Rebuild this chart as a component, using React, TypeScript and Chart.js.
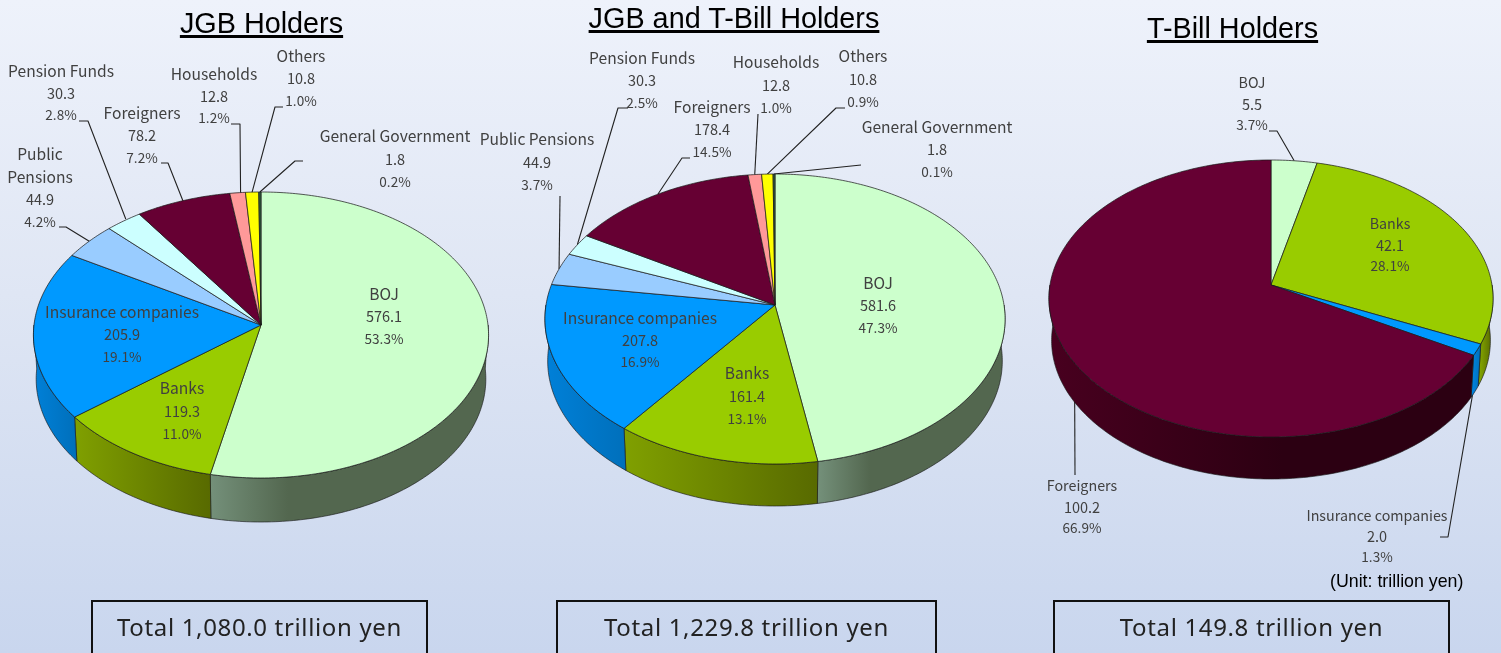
import React, { useEffect, useRef } from "react";
import { Chart, registerables } from "chart.js";

Chart.register(...registerables);

// ---------- data ----------
const jgbHolders = ["BOJ", "Banks", "Insurance companies", "Public Pensions", "Pension Funds", "Foreigners", "Households", "Others", "General Government"];
const jgbValues = [576.1, 119.3, 205.9, 44.9, 30.3, 78.2, 12.8, 10.8, 1.8];
const jgbPercents = ["53.3%", "11.0%", "19.1%", "4.2%", "2.8%", "7.2%", "1.2%", "1.0%", "0.2%"];

const allHolders = jgbHolders;
const allValues = [581.6, 161.4, 207.8, 44.9, 30.3, 178.4, 12.8, 10.8, 1.8];
const allPercents = ["47.3%", "13.1%", "16.9%", "3.7%", "2.5%", "14.5%", "1.0%", "0.9%", "0.1%"];

const billHolders = ["BOJ", "Banks", "Insurance companies", "Foreigners"];
const billValues = [5.5, 42.1, 2.0, 100.2];
const billPercents = ["3.7%", "28.1%", "1.3%", "66.9%"];

const titles = ["JGB Holders", "JGB and T-Bill Holders", "T-Bill Holders"];
const totals = ["Total 1,080.0 trillion yen", "Total 1,229.8 trillion yen", "Total 149.8 trillion yen"];
const unitNote = "(Unit: trillion yen)";

// ---------- styles and layout ----------
const WIDTH = 1501;
const HEIGHT = 653;
const NAME_FONT = "15.6px 'Noto Sans CJK JP'";
const SMALL_NAME_FONT = "14.3px 'Noto Sans CJK JP'";
const VALUE_FONT = "14.5px 'Noto Sans CJK JP'";
const PERCENT_FONT = "13.6px 'Noto Sans CJK JP'";

const topColors: Record<string, string> = {
  BOJ: "#CCFFCC",
  Banks: "#99CC00",
  "Insurance companies": "#0099FF",
  "Public Pensions": "#99CCFF",
  "Pension Funds": "#CCFFFF",
  Foreigners: "#660033",
  Households: "#FF9999",
  Others: "#FFFF00",
  "General Government": "#2F5F3F",
};
// light colour, dark colour, fraction of the side where the dark colour is reached
const sideColors: Record<string, [string, string, number]> = {
  BOJ: ["#74907A", "#53674F", 0.28],
  Banks: ["#80A000", "#586A00", 1],
  "Insurance companies": ["#0080D8", "#0070BC", 1],
  "Public Pensions": ["#7FA8D0", "#7FA8D0", 1],
  "Pension Funds": ["#A8D4D4", "#A8D4D4", 1],
  Foreigners: ["#48001F", "#2C0012", 0.55],
  Households: ["#CC7A7A", "#CC7A7A", 1],
  Others: ["#CCCC00", "#CCCC00", 1],
  "General Government": ["#264D33", "#264D33", 1],
};

type Place = { x: number; y: number; gap: number; lines?: string[]; line?: number[][]; shift?: number[] };
type Panel = {
  holders: string[];
  values: number[];
  percents: string[];
  cx: number;
  cy: number;
  radius: number;
  topRy: number;
  bottomRy: number;
  depth: number;
  nameFont: string;
  places: Record<string, Place>;
};

const panels: Panel[] = [
  {
    holders: jgbHolders, values: jgbValues, percents: jgbPercents,
    cx: 261, cy: 325, radius: 227, topRy: 133, bottomRy: 153, depth: 44, nameFont: NAME_FONT,
    places: {
      BOJ: { x: 384, y: 294, gap: 22.5 },
      Banks: { x: 182, y: 388, gap: 23 },
      "Insurance companies": { x: 122, y: 312, gap: 22.5 },
      "Public Pensions": { x: 40, y: 154, gap: 22.7, lines: ["Public", "Pensions"], line: [[59, 227], [66, 227]] },
      "Pension Funds": { x: 61, y: 71, gap: 22, line: [[79, 121], [88, 121]], shift: [2, -2] },
      Foreigners: { x: 142, y: 113, gap: 22.5, line: [[161, 163], [168, 163]] },
      Households: { x: 214, y: 74, gap: 22, line: [[231, 124], [240, 124]], shift: [3, 0] },
      Others: { x: 301, y: 56, gap: 22.5, line: [[283, 107], [275, 107]] },
      "General Government": { x: 395, y: 136, gap: 23, line: [[303, 161], [295, 161]] },
    },
  },
  {
    holders: allHolders, values: allValues, percents: allPercents,
    cx: 775, cy: 305, radius: 229, topRy: 131, bottomRy: 159, depth: 42, nameFont: NAME_FONT,
    places: {
      BOJ: { x: 878, y: 283, gap: 22.5 },
      Banks: { x: 747, y: 373, gap: 23 },
      "Insurance companies": { x: 640, y: 318, gap: 22 },
      "Public Pensions": { x: 537, y: 139, gap: 23, line: [[560, 196]] },
      "Pension Funds": { x: 642, y: 58, gap: 22.5, line: [[628, 108], [618, 108]] },
      Foreigners: { x: 712, y: 107, gap: 22.5, line: [[690, 158], [682, 158]] },
      Households: { x: 776, y: 62, gap: 23, line: [[758, 114]] },
      Others: { x: 863, y: 56, gap: 23, line: [[845, 108], [836, 108]] },
      "General Government": { x: 937, y: 127, gap: 22.5, line: [[861, 165]] },
    },
  },
  {
    holders: billHolders, values: billValues, percents: billPercents,
    cx: 1271, cy: 285, radius: 221, topRy: 125, bottomRy: 152, depth: 42, nameFont: SMALL_NAME_FONT,
    places: {
      BOJ: { x: 1252, y: 83, gap: 21, line: [[1269, 131], [1277, 131]] },
      Banks: { x: 1390, y: 224, gap: 21 },
      Foreigners: { x: 1082, y: 486, gap: 21, line: [[1075, 475]], shift: [4, 0] },
      "Insurance companies": { x: 1377, y: 516, gap: 20.5, line: [[1440, 537], [1448, 537]], shift: [3, 0] },
    },
  },
];

const titleStyles = [
  { left: 61.5, width: 400, top: 6 },
  { left: 534, width: 400, top: 1 },
  { left: 1032.5, width: 400, top: 11 },
];
const boxStyles = [
  { left: 91, width: 333 },
  { left: 556, width: 377 },
  { left: 1053, width: 393 },
];

function makePlugin(panel: Panel) {
  const b = (2 * panel.topRy * panel.bottomRy) / (panel.topRy + panel.bottomRy);
  const persp = (panel.bottomRy - panel.topRy) / (panel.bottomRy + panel.topRy);
  const NEAR_SCALE = 0.988;

  const rim = (arc: any, angle: number) => {
    const w = 1 - persp * Math.sin(angle);
    return [arc.x + (arc.outerRadius * Math.cos(angle)) / w, arc.y + (b * Math.sin(angle)) / w];
  };
  const under = (arc: any, pt: number[]) => [arc.x + (pt[0] - arc.x) * NEAR_SCALE, pt[1] + panel.depth];
  const sweep = (from: number, to: number) => {
    const n = Math.max(2, Math.ceil(Math.abs(to - from) / 0.015));
    const list: number[] = [];
    for (let i = 0; i <= n; i++) list.push(from + ((to - from) * i) / n);
    return list;
  };
  const edge = "rgba(25,25,25,0.8)";

  return {
    id: "pie3d",
    beforeDatasetDraw(chart: any, args: any) {
      const ctx: CanvasRenderingContext2D = chart.ctx;
      const arcs: any[] = args.meta.data;
      ctx.save();
      ctx.lineJoin = "round";

      // leader lines, behind the pie
      ctx.strokeStyle = "#222";
      ctx.lineWidth = 1.1;
      arcs.forEach((arc, i) => {
        const place = panel.places[panel.holders[i]];
        if (!place || !place.line) return;
        const s = place.shift || [0, 0];
        const end = rim(arc, (arc.startAngle + arc.endAngle) / 2);
        ctx.beginPath();
        place.line.forEach((p, k) => (k ? ctx.lineTo(p[0], p[1]) : ctx.moveTo(p[0], p[1])));
        ctx.lineTo(end[0] + s[0], end[1] + s[1]);
        ctx.stroke();
      });

      // side wall of the slices that face the viewer
      arcs.forEach((arc, i) => {
        const from = Math.max(arc.startAngle, 0);
        const to = Math.min(arc.endAngle, Math.PI);
        if (to <= from) return;
        const top = sweep(from, to).map((a) => rim(arc, a));
        const bottom = top.map((p) => under(arc, p));
        const [light, dark, stop] = sideColors[panel.holders[i]];
        const xRight = top[0][0];
        const xLeft = top[top.length - 1][0];
        const grad = ctx.createLinearGradient(xLeft, 0, xRight, 0);
        grad.addColorStop(0, light);
        grad.addColorStop(stop, dark);
        grad.addColorStop(1, dark);
        ctx.beginPath();
        top.forEach((p, k) => (k ? ctx.lineTo(p[0], p[1]) : ctx.moveTo(p[0], p[1])));
        bottom.reverse().forEach((p) => ctx.lineTo(p[0], p[1]));
        ctx.closePath();
        ctx.fillStyle = grad;
        ctx.fill();
        ctx.strokeStyle = edge;
        ctx.lineWidth = 0.8;
        ctx.stroke();
      });

      // top face
      arcs.forEach((arc, i) => {
        ctx.beginPath();
        ctx.moveTo(arc.x, arc.y);
        sweep(arc.startAngle, arc.endAngle).forEach((a) => {
          const p = rim(arc, a);
          ctx.lineTo(p[0], p[1]);
        });
        ctx.closePath();
        ctx.fillStyle = topColors[panel.holders[i]];
        ctx.fill();
        ctx.strokeStyle = edge;
        ctx.lineWidth = 0.9;
        ctx.stroke();
      });
      ctx.restore();
      return false;
    },
    afterDatasetsDraw(chart: any) {
      const ctx: CanvasRenderingContext2D = chart.ctx;
      ctx.save();
      ctx.textAlign = "center";
      ctx.textBaseline = "middle";
      ctx.fillStyle = "#404040";
      panel.holders.forEach((name, i) => {
        const place = panel.places[name];
        const names = place.lines || [name];
        names.forEach((text, k) => {
          ctx.font = panel.nameFont;
          ctx.fillText(text, place.x, place.y + k * place.gap);
        });
        ctx.font = VALUE_FONT;
        ctx.fillText(panel.values[i].toFixed(1), place.x, place.y + names.length * place.gap);
        ctx.font = PERCENT_FONT;
        ctx.fillText(panel.percents[i], place.x, place.y + (names.length + 1) * place.gap);
      });
      ctx.restore();
    },
  };
}

function PiePanel({ panel }: { panel: Panel }) {
  const ref = useRef<HTMLCanvasElement>(null);
  useEffect(() => {
    const chart = new Chart(ref.current as HTMLCanvasElement, {
      type: "pie",
      data: {
        labels: panel.holders,
        datasets: [
          {
            data: panel.values,
            backgroundColor: panel.holders.map((h) => topColors[h]),
            hoverOffset: 0,
            borderWidth: 0,
          },
        ],
      },
      options: {
        animation: false,
        responsive: false,
        devicePixelRatio: 1,
        rotation: 0,
        events: [],
        layout: {
          padding: {
            left: panel.cx - panel.radius,
            right: WIDTH - panel.cx - panel.radius,
            top: panel.cy - panel.radius,
            bottom: HEIGHT - panel.cy - panel.radius,
          },
        },
        plugins: { legend: { display: false }, tooltip: { enabled: false } },
      },
      plugins: [makePlugin(panel)],
    } as any);
    return () => chart.destroy();
  }, [panel]);
  return (
    <canvas
      ref={ref}
      width={WIDTH}
      height={HEIGHT}
      style={{ position: "absolute", left: 0, top: 0, width: WIDTH, height: HEIGHT }}
    />
  );
}

export default function App() {
  return (
    <div
      style={{
        position: "absolute",
        left: 0,
        top: 0,
        width: WIDTH,
        height: HEIGHT,
        overflow: "hidden",
        background: "linear-gradient(180deg, #EEF2FB 0%, #DFE6F4 45%, #C9D6EE 100%)",
      }}
    >
      {panels.map((p, i) => (
        <PiePanel key={i} panel={p} />
      ))}
      {titles.map((t, i) => (
        <div
          key={t}
          style={{
            position: "absolute",
            ...titleStyles[i],
            textAlign: "center",
            font: "28.8px 'Liberation Sans'",
            lineHeight: "34px",
            color: "#000",
            textDecoration: "underline",
            textDecorationThickness: "2.5px",
          }}
        >
          {t}
        </div>
      ))}
      {totals.map((t, i) => (
        <div
          key={t}
          style={{
            position: "absolute",
            ...boxStyles[i],
            top: 600,
            height: 70,
            border: "2px solid #111",
            boxSizing: "content-box",
            textAlign: "center",
            font: "24px 'Noto Sans'",
            letterSpacing: "0.65px",
            lineHeight: "50px",
            color: "#222",
          }}
        >
          {t}
        </div>
      ))}
      <div
        style={{
          position: "absolute",
          left: 1330,
          top: 572,
          font: "17.8px 'Liberation Sans'",
          lineHeight: "18px",
          color: "#000",
          whiteSpace: "nowrap",
        }}
      >
        {unitNote}
      </div>
    </div>
  );
}
